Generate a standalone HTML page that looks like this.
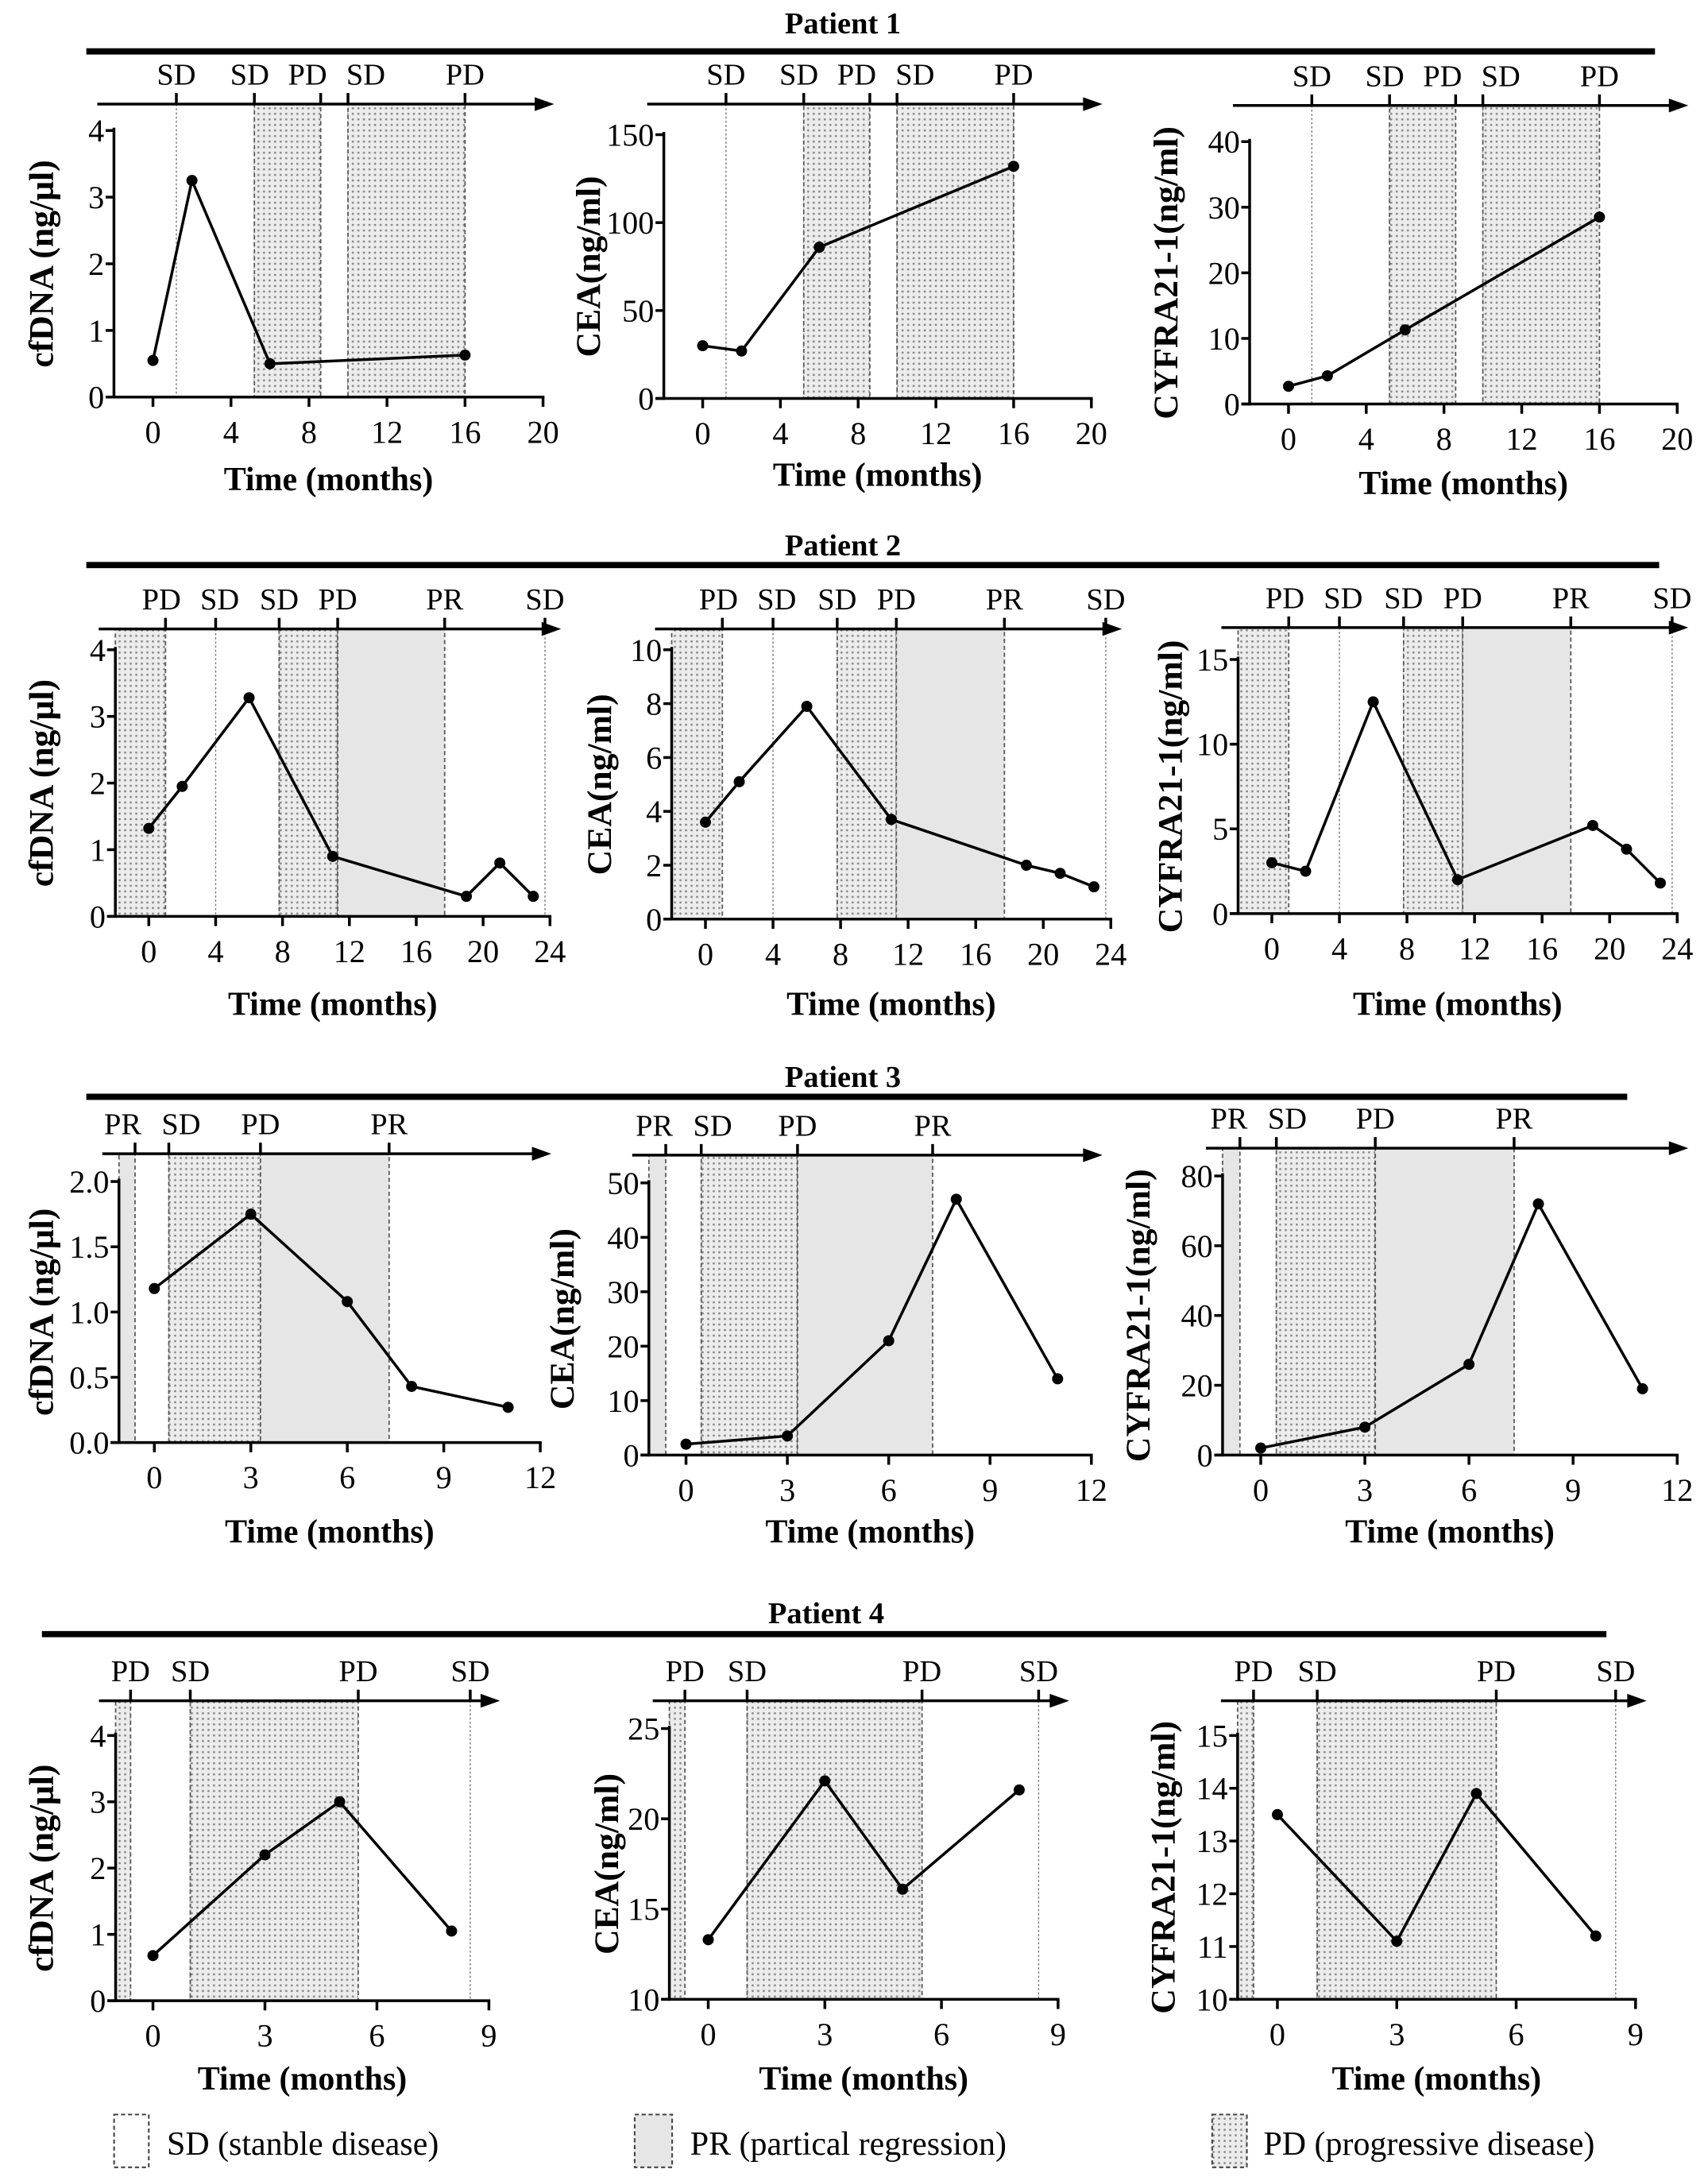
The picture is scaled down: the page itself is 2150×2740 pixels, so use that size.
<!DOCTYPE html>
<html><head><meta charset="utf-8"><title>Patients biomarkers timeline</title>
<style>
html,body{margin:0;padding:0;background:#fff;}
svg{display:block;font-family:"Liberation Serif",serif;}
</style></head>
<body>
<svg id="fig" xmlns="http://www.w3.org/2000/svg" width="2150" height="2740" viewBox="0 0 1230 1568">
<defs>
<pattern id="dots" width="4" height="4" patternUnits="userSpaceOnUse">
<rect width="4" height="4" fill="#ececec"/>
<circle cx="2" cy="2" r="0.8" fill="#888"/>
</pattern>
</defs>
<g id="root"></g>
<g>
<rect x="82" y="1523" width="25" height="38" fill="#fff" stroke="#444" stroke-dasharray="3,2" stroke-width="1.2"/>
<text x="120" y="1552" font-size="24">SD (stanble disease)</text>
<rect x="457" y="1523" width="27" height="38" fill="#e6e6e6" stroke="#444" stroke-dasharray="3,2" stroke-width="1.2"/>
<text x="497" y="1552" font-size="24">PR (partical regression)</text>
<rect x="873" y="1523" width="25" height="38" fill="url(#dots)" stroke="#444" stroke-dasharray="3,2" stroke-width="1.2"/>
<text x="910" y="1552" font-size="24">PD (progressive disease)</text>
</g>
</svg>
<script>
// ---- Data ----
const patientNames = ["Patient 1","Patient 2","Patient 3","Patient 4"];
const p1Boundaries = [1.2,5.2,8.6,10,16];
const p1Statuses = ["SD","SD","PD","SD","PD"];
const p2Boundaries = [1.0,4.0,7.8,11.3,17.7,23.7];
const p2Statuses = ["PD","SD","SD","PD","PR","SD"];
const p3Boundaries = [-0.6,0.45,3.3,7.3];
const p3Statuses = ["PR","SD","PD","PR"];
const p4Boundaries = [-0.6,1.0,5.5,8.5];
const p4Statuses = ["PD","SD","PD","SD"];

const p1Months = [0,2,6,16];
const p1cfDNA = [0.55,3.25,0.5,0.63];
const p1CEA = [30,27,86,132];
const p1CYFRA = [2.7,4.3,11.3,28.5];

const p2Months = [0,2,6,11,19,21,23];
const p2cfDNA = [1.32,1.95,3.28,0.9,0.3,0.8,0.3];
const p2CEA = [3.6,5.1,7.9,3.7,2.0,1.7,1.2];
const p2CYFRA = [3.0,2.5,12.5,2.0,5.2,3.8,1.8];

const p3Months = [0,3,6,8,11];
const p3cfDNA = [1.18,1.75,1.08,0.43,0.27];
const p3CEA = [2,3.5,21,47,14];
const p3CYFRA = [2,8,26,72,19];

const p4Months = [0,3,5,8];
const p4cfDNA = [0.68,2.2,3.0,1.05];
const p4CEA = [13.3,22.1,16.1,21.6];
const p4CYFRA = [13.5,11.1,13.9,11.2];

const xTicks1 = [0,4,8,12,16,20];
const xTicks2 = [0,4,8,12,16,20,24];
const xTicks3 = [0,3,6,9,12];
const xTicks4 = [0,3,6,9];

const yTicksA = [0,1,2,3,4];
const yTicksCEA1 = [0,50,100,150];
const yTicksCY1 = [0,10,20,30,40];
const yTicksCEA2 = [0,2,4,6,8,10];
const yTicksCY2 = [0,5,10,15];
const yTicksC3 = [0,0.5,1.0,1.5,2.0];
const yTicksCEA3 = [0,10,20,30,40,50];
const yTicksCY3 = [0,20,40,60,80];
const yTicksCEA4 = [10,15,20,25];
const yTicksCY4 = [10,11,12,13,14,15];

// ---- Layout ----
const NS = "http://www.w3.org/2000/svg";
const root = document.getElementById("root");
function mk(tag, attrs, parent){
  const e = document.createElementNS(NS, tag);
  for (const k in attrs) e.setAttribute(k, attrs[k]);
  (parent||root).appendChild(e);
  return e;
}
const headers = [
  {ty:24, by:37, x1:62, x2:1192, cx:607},
  {ty:400, by:407, x1:62, x2:1195, cx:607},
  {ty:783, by:790, x1:62, x2:1172, cx:607},
  {ty:1169, by:1177, x1:30, x2:1157, cx:595}
];
const panels = [
 {p:0, ylab:"cfDNA  (ng/\u03BCl)", lx:30, months:p1Months, vals:p1cfDNA, xt:xTicks1, yt:yTicksA, dec:0, xmin:-2, x0:110, xE:391, yT:94, yB:286, ay:75, ty:345},
 {p:0, ylab:"CEA(ng/ml)", lx:424, months:p1Months, vals:p1CEA, xt:xTicks1, yt:yTicksCEA1, dec:0, xmin:-2, x0:506, xE:786, yT:97, yB:287, ay:75, ty:342},
 {p:0, ylab:"CYFRA21-1(ng/ml)", lx:840, months:p1Months, vals:p1CYFRA, xt:xTicks1, yt:yTicksCY1, dec:0, xmin:-2, x0:928, xE:1208, yT:102, yB:291, ay:76, ty:348},
 {p:1, ylab:"cfDNA  (ng/\u03BCl)", lx:30, months:p2Months, vals:p2cfDNA, xt:xTicks2, yt:yTicksA, dec:0, xmin:-2, x0:107, xE:396, yT:468, yB:660, ay:453, ty:723},
 {p:1, ylab:"CEA(ng/ml)", lx:432, months:p2Months, vals:p2CEA, xt:xTicks2, yt:yTicksCEA2, dec:0, xmin:-2, x0:508, xE:800, yT:468, yB:662, ay:453, ty:723},
 {p:1, ylab:"CYFRA21-1(ng/ml)", lx:843, months:p2Months, vals:p2CYFRA, xt:xTicks2, yt:yTicksCY2, dec:0, xmin:-2, x0:916, xE:1208, yT:475, yB:658, ay:452, ty:723},
 {p:2, ylab:"cfDNA  (ng/\u03BCl)", lx:30, months:p3Months, vals:p3cfDNA, xt:xTicks3, yt:yTicksC3, dec:1, xmin:-1.1, x0:111, xE:389, yT:851, yB:1039, ay:831, ty:1103},
 {p:2, ylab:"CEA(ng/ml)", lx:405, months:p3Months, vals:p3CEA, xt:xTicks3, yt:yTicksCEA3, dec:0, xmin:-1.1, x0:494, xE:786, yT:852, yB:1048, ay:832, ty:1103},
 {p:2, ylab:"CYFRA21-1(ng/ml)", lx:820, months:p3Months, vals:p3CYFRA, xt:xTicks3, yt:yTicksCY3, dec:0, xmin:-1.1, x0:908, xE:1208, yT:847, yB:1048, ay:827, ty:1103},
 {p:3, ylab:"cfDNA  (ng/\u03BCl)", lx:30, months:p4Months, vals:p4cfDNA, xt:xTicks4, yt:yTicksA, dec:0, xmin:-1, x0:110, xE:352, yT:1250, yB:1441, ay:1225, ty:1497},
 {p:3, ylab:"CEA(ng/ml)", lx:437, months:p4Months, vals:p4CEA, xt:xTicks4, yt:yTicksCEA4, dec:0, xmin:-1, x0:510, xE:762, yT:1245, yB:1440, ay:1225, ty:1497},
 {p:3, ylab:"CYFRA21-1(ng/ml)", lx:838, months:p4Months, vals:p4CYFRA, xt:xTicks4, yt:yTicksCY4, dec:0, xmin:-1, x0:920, xE:1178, yT:1250, yB:1440, ay:1225, ty:1497}
];
const bounds = [p1Boundaries,p2Boundaries,p3Boundaries,p4Boundaries];
const stats = [p1Statuses,p2Statuses,p3Statuses,p4Statuses];

headers.forEach((h,i)=>{
  const t = mk("text",{x:h.cx,y:h.ty,"text-anchor":"middle","font-size":22,"font-weight":"bold"});
  t.textContent = patientNames[i];
  
  
  const l = mk("line",{x1:h.x1,x2:h.x2,y1:h.by,y2:h.by,stroke:"#000","stroke-width":4.5});
  
  
});

panels.forEach((P,pi)=>{
  const g = mk("g",{});
  
  
  const lastT = P.xt[P.xt.length-1];
  const sx = m => P.x0 + (m) * (P.xE - P.x0) / lastT;
  const ymin = P.yt[0], ymax = P.yt[P.yt.length-1];
  const sy = v => P.yB - (v - ymin) * (P.yB - P.yT) / (ymax - ymin);
  const axX = sx(P.xmin);
  const B = bounds[P.p], S = stats[P.p];
  let start = P.xmin;
  B.forEach((b,i)=>{
    const st = S[i];
    const x1 = sx(start), x2 = sx(b);
    if (st === "PD" || st === "PR") {
      const r = mk("rect",{x:x1,y:P.ay,width:x2-x1,height:P.yB-P.ay,fill: st==="PD"?"url(#dots)":"#e6e6e6",stroke:"#555","stroke-width":1,"stroke-dasharray":"3,2"},g);
      
      
    } else {
      const l = mk("line",{x1:x2,x2:x2,y1:P.ay,y2:P.yB,stroke:"#777","stroke-width":0.8,"stroke-dasharray":"1.5,1.5"},g);
      
      
    }
    start = b;
  });
  const tipX = sx(lastT) + 8;
  const al = mk("line",{x1:axX-12,x2:tipX-10,y1:P.ay,y2:P.ay,stroke:"#000","stroke-width":2},g);
  
  
  const ah = mk("polygon",{points:`${tipX},${P.ay} ${tipX-14},${P.ay-5} ${tipX-14},${P.ay+5}`,fill:"#000"},g);
  
  
  const centers = B.map(b=>sx(b));
  const minGap = 42;
  for (let it=0; it<3; it++){
    for (let i=0;i<centers.length-1;i++){
      const gap = centers[i+1]-centers[i];
      if (gap < minGap){ const d=(minGap-gap)/2; centers[i]-=d; centers[i+1]+=d; }
    }
  }
  B.forEach((b,i)=>{
    const x = sx(b);
    const tk = mk("line",{x1:x,x2:x,y1:P.ay-8,y2:P.ay,stroke:"#000","stroke-width":2},g);
    
    
    const t = mk("text",{x:centers[i],y:P.ay-14,"text-anchor":"middle","font-size":22},g);
    t.textContent = S[i];
    
    
  });
  const ya = mk("line",{x1:axX,x2:axX,y1:P.yT-2,y2:P.yB+1,stroke:"#000","stroke-width":2},g);
  
  
  const xa = mk("line",{x1:axX-6,x2:sx(lastT)+1,y1:P.yB,y2:P.yB,stroke:"#000","stroke-width":2},g);
  
  
  P.yt.forEach(v=>{
    const y = sy(v);
    const tk = mk("line",{x1:axX-6,x2:axX,y1:y,y2:y,stroke:"#000","stroke-width":2},g);
    
    
    const t = mk("text",{x:axX-7,y:y+8,"text-anchor":"end","font-size":23},g);
    t.textContent = P.dec ? v.toFixed(P.dec) : String(v);
    
    
  });
  P.xt.forEach(v=>{
    const x = sx(v);
    const tk = mk("line",{x1:x,x2:x,y1:P.yB,y2:P.yB+7,stroke:"#000","stroke-width":2},g);
    
    
    const t = mk("text",{x:x,y:P.yB+33,"text-anchor":"middle","font-size":23},g);
    t.textContent = String(v);
    
    
  });
  const xt = mk("text",{x:(axX+sx(lastT))/2,y:P.ty+8,"text-anchor":"middle","font-size":24,"font-weight":"bold"},g);
  xt.textContent = "Time (months)";
  
  
  const yc = (P.yT+P.yB)/2;
  const yl = mk("text",{x:P.lx,y:yc,"text-anchor":"middle","font-size":25,"font-weight":"bold",transform:`rotate(-90 ${P.lx} ${yc})`,dy:"8"},g);
  yl.textContent = P.ylab;
  
  
  const pts = P.months.map((m,i)=>`${sx(m)},${sy(P.vals[i])}`).join(" ");
  const pl = mk("polyline",{points:pts,fill:"none",stroke:"#000","stroke-width":2},g);
  
  
  P.months.forEach((m,i)=>{
    const c = mk("circle",{cx:sx(m),cy:sy(P.vals[i]),r:4,fill:"#000"},g);
    
    
  });
});
</script>
</body></html>
